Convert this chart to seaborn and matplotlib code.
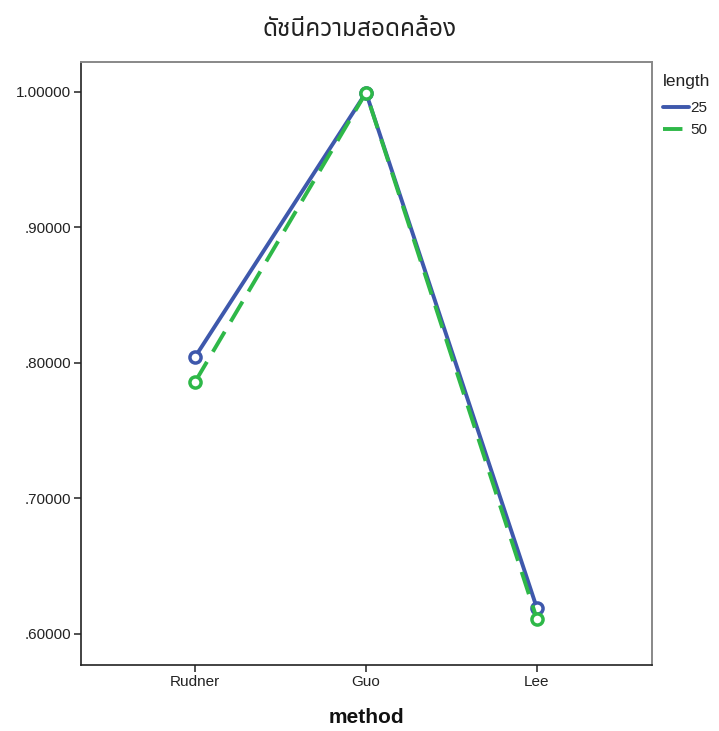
import matplotlib
matplotlib.use("Agg")
import matplotlib.pyplot as plt
import seaborn as sns
import pandas as pd
from matplotlib.ticker import FuncFormatter
from matplotlib.lines import Line2D
from matplotlib.colors import to_hex

methods = ["Rudner", "Guo", "Lee"]
length_25 = [0.8044, 0.9995, 0.6190]
length_50 = [0.7860, 0.9995, 0.6110]
lengths = ["25", "50"]

df = pd.DataFrame({
    "method": methods * 2,
    "value": length_25 + length_50,
    "length": [lengths[0]] * 3 + [lengths[1]] * 3,
})

sns.set_style("white")
plt.rcParams["font.family"] = ["Noto Sans Thai", "Tahoma", "Noto Sans", "DejaVu Sans"]
latin = ["Liberation Sans", "DejaVu Sans"]

colors = {"25": "#3E58AC", "50": "#2EB848"}

fig = plt.figure(figsize=(7.19, 7.31), dpi=100)
ax = fig.add_axes([0.1127, 0.0903, 0.7941, 0.8249])

sns.pointplot(data=df, x="method", y="value", hue="length", order=methods,
              hue_order=lengths, palette=colors, markers="o",
              linestyles=["-", "--"], ax=ax, legend=False, dodge=False)

# style each series line by its colour
for line in ax.lines:
    if len(line.get_xdata()) != len(methods):
        continue
    c = to_hex(line.get_color()).upper()
    key = "25" if c == colors["25"].upper() else "50"
    line.set_markerfacecolor("white")
    line.set_markeredgecolor(colors[key])
    line.set_markeredgewidth(2.5)
    line.set_markersize(8)
    line.set_linewidth(2.8)
    if key == "50":
        line.set_dashes([6, 3])
        line.set_zorder(3)
    else:
        line.set_zorder(2.5)

ax.set_xlim(-0.667, 2.673)
ax.set_ylim(0.5771, 1.0221)
ax.set_yticks([0.6, 0.7, 0.8, 0.9, 1.0])
ax.yaxis.set_major_formatter(FuncFormatter(
    lambda v, p: f"{v:.5f}" if v >= 1 else f"{v:.5f}".lstrip("0")))

for side in ("left", "bottom"):
    ax.spines[side].set_color("#222222")
    ax.spines[side].set_linewidth(1.2)
for side in ("top", "right"):
    ax.spines[side].set_color("#888888")
    ax.spines[side].set_linewidth(1.4)

ax.tick_params(axis="both", which="major", direction="out", length=5,
               width=1.2, color="#333333", labelsize=11, labelcolor="#222222",
               left=True, bottom=True, pad=2)
for lab in ax.get_xticklabels() + ax.get_yticklabels():
    lab.set_family(latin)

ax.set_ylabel("")
ax.set_xlabel("method", fontsize=15, fontweight="bold", labelpad=14,
              family=latin, color="#111111")

fig.text(0.5, 0.959, "ดัชนีความสอดคล้อง", ha="center", va="center",
         fontsize=17.5, color="#222222")

# legend: title placed on its own, entries below with wider gap
fig.text(0.922, 0.888, "length", ha="left", va="center", fontsize=12.5,
         family=latin, color="#222222")
handles = [Line2D([], [], color=colors["25"], lw=2.8, linestyle="-"),
           Line2D([], [], color=colors["50"], lw=2.8, dashes=[5, 3])]
leg = fig.legend(handles, lengths, loc="upper left",
                 bbox_to_anchor=(0.922, 0.862), frameon=False, fontsize=11,
                 handlelength=1.7, handletextpad=0.1,
                 borderaxespad=0, borderpad=0, labelspacing=0.55)
for t in leg.get_texts():
    t.set_family(latin)
    t.set_color("#222222")

fig.savefig("out.png", dpi=100)
